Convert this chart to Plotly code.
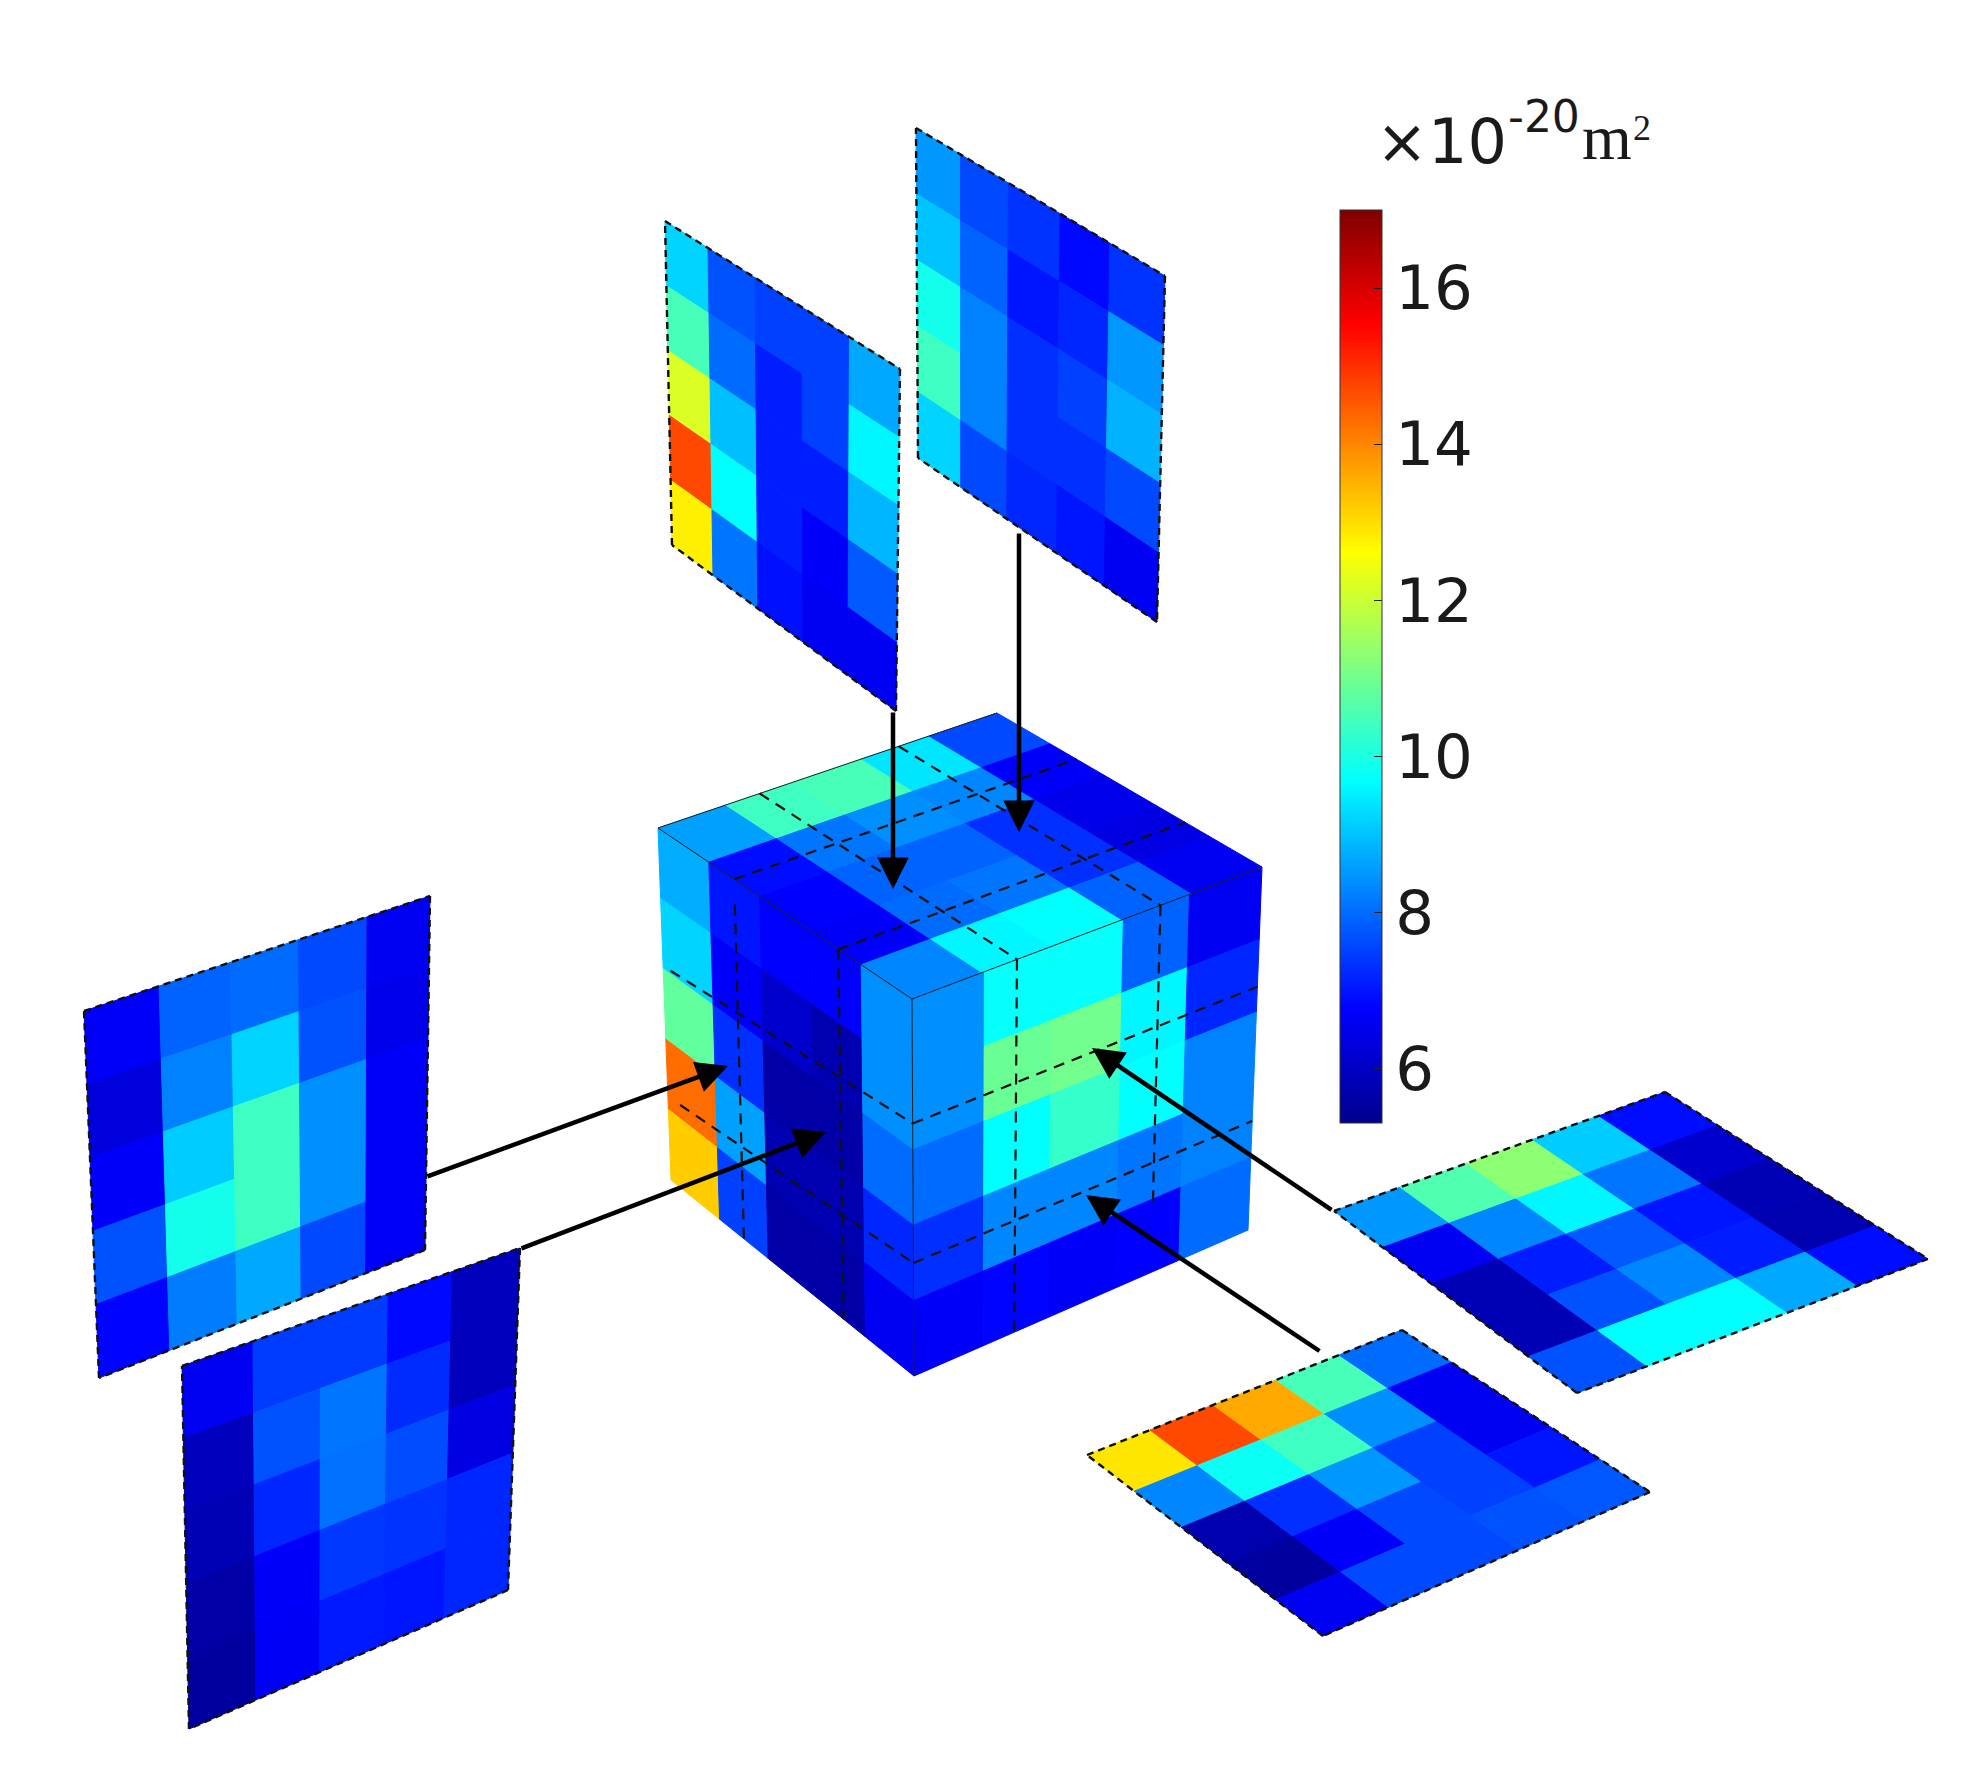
"""Six slice heatmaps around a cube of cross-section values, drawn on pixel-like axes."""

import plotly.graph_objects as go
from plotly.colors import sample_colorscale

# Values, x 10^-20 m2. Every inner list is one column of a 5 x 5 slice, first row first.
slice_top_left = [
    [9.2, 10.5, 12.2, 14.7, 12.8],
    [7.7, 8.0, 8.95, 9.7, 8.1],
    [7.5, 7.1, 7.1, 7.1, 6.95],
    [7.5, 7.5, 7.1, 6.7, 6.6],
    [8.7, 9.6, 8.85, 7.8, 6.6],
]
slice_top_right = [
    [8.5, 9.0, 9.9, 10.4, 9.2],
    [7.6, 7.9, 8.25, 8.25, 7.6],
    [7.35, 7.0, 7.3, 7.3, 7.2],
    [6.85, 7.2, 7.5, 7.3, 7.0],
    [7.35, 8.5, 8.8, 7.6, 6.6],
]
slice_left_upper = [
    [6.7, 6.3, 6.7, 7.7, 6.8],
    [7.9, 8.25, 9.1, 9.9, 8.2],
    [8.0, 9.2, 10.4, 10.4, 8.7],
    [7.6, 7.7, 8.4, 8.4, 7.6],
    [6.6, 6.5, 6.7, 6.7, 6.7],
]
slice_left_lower = [
    [6.6, 5.9, 5.8, 5.6, 5.5],
    [7.45, 7.7, 7.2, 6.7, 6.65],
    [7.45, 8.1, 8.05, 7.4, 7.05],
    [6.85, 7.25, 7.65, 7.35, 7.0],
    [5.9, 5.9, 6.4, 7.2, 7.2],
]
slice_right_upper = [
    [8.5, 6.6, 5.8, 5.8, 7.7],
    [10.6, 8.3, 7.1, 7.7, 9.7],
    [11.3, 9.6, 7.8, 8.3, 9.7],
    [9.1, 8.1, 7.0, 7.1, 8.7],
    [6.9, 6.1, 5.8, 5.7, 6.9],
]
slice_right_lower = [
    [12.9, 8.3, 5.7, 5.5, 6.6],
    [14.7, 9.8, 7.3, 6.7, 7.6],
    [13.6, 10.4, 8.5, 7.6, 7.6],
    [10.5, 8.4, 7.5, 7.5, 7.7],
    [8.0, 6.6, 6.6, 7.0, 7.75],
]
cube_left = [
    [8.75, 9.2, 10.8, 14.3, 13.2],
    [7.0, 6.7, 7.3, 8.6, 7.5],
    [6.75, 6.1, 5.6, 5.75, 5.6],
    [6.75, 5.75, 5.6, 5.75, 5.6],
    [8.4, 8.4, 8.0, 7.2, 6.6],
]
cube_right = [
    [8.4, 8.4, 8.0, 7.3, 6.7],
    [9.75, 10.9, 9.7, 8.3, 6.8],
    [9.75, 11.0, 10.3, 8.3, 6.7],
    [7.9, 9.6, 9.7, 8.1, 6.75],
    [6.6, 7.2, 8.25, 8.25, 8.0],
]
cube_top = [
    [8.6, 10.4, 10.5, 9.4, 7.6],
    [6.9, 8.1, 8.4, 8.3, 6.7],
    [6.75, 7.9, 7.9, 7.3, 6.5],
    [6.7, 8.0, 8.1, 7.3, 6.4],
    [8.3, 9.6, 9.7, 7.9, 6.6],
]

V_MIN, V_MAX = 5.3, 17.0
colorbar_ticks = [6, 8, 10, 12, 14, 16]
JET = [
    [0.0, "#00008f"], [0.125, "#0000ff"], [0.375, "#00ffff"],
    [0.625, "#ffff00"], [0.875, "#ff0000"], [1.0, "#800000"],
]

# The page body has an 8px margin, so the figure starts there
PAGE_W, PAGE_H, BODY_MARGIN = 1963, 1770, 8
FIG_W, FIG_H = PAGE_W - BODY_MARGIN, PAGE_H - BODY_MARGIN

# Column edges across a face; the drawing is not quite uniform
EVEN_EDGES = (0, 0.2, 0.4, 0.6, 0.8, 1)

# Where each face lands on the page: top-left, top-right, bottom-right, bottom-left
FACES = [
    (slice_top_left, ((665, 221), (900, 369), (896, 711), (672, 545)), (0, 0.183, 0.383, 0.584, 0.785, 1)),
    (slice_top_right, ((916, 128), (1165, 276), (1157, 622), (918, 458)), (0, 0.179, 0.371, 0.579, 0.779, 1)),
    (slice_left_upper, ((84, 1011), (430, 896), (425, 1250), (99, 1378)), (0, 0.217, 0.424, 0.62, 0.818, 1)),
    (slice_left_lower, ((182, 1366), (520, 1248), (508, 1590), (189, 1729)), (0, 0.21, 0.41, 0.61, 0.8, 1)),
    (slice_right_upper, ((1334, 1211), (1665, 1092), (1928, 1259), (1577, 1393)), EVEN_EDGES),
    (slice_right_lower, ((1087, 1455), (1402, 1330), (1650, 1492), (1323, 1636)), EVEN_EDGES),
]
CUBE_LEFT = ((658, 828), (912, 999), (914, 1376), (671, 1180))
CUBE_RIGHT = ((912, 999), (1262, 867), (1248, 1230), (914, 1376))
CUBE_TOP = ((658, 828), (912, 999), (1262, 867), (997, 713))
CUBE_FACES = [
    (cube_left, CUBE_LEFT, EVEN_EDGES),
    (cube_right, CUBE_RIGHT, (0, 0.207, 0.402, 0.604, 0.793, 1)),
    (cube_top, CUBE_TOP, EVEN_EDGES),
]

# Cutting planes as seen on the cube faces: (u0, v0, u1, v1) in face fractions
LEFT_CUTS = [(0.3, 0.07, 0.3, 1.0), (0.71, 0.0, 0.71, 1.0),
             (0.03, 0.39, 1.0, 0.33), (0.05, 0.76, 1.0, 0.7)]
RIGHT_CUTS = [(0.3, 0.0, 0.3, 1.0), (0.71, 0.0, 0.71, 0.82),
              (0.0, 0.33, 1.0, 0.33), (0.0, 0.7, 1.0, 0.7)]
TOP_CUTS = [(0.3, 0.0, 0.3, 1.0), (0.71, 0.0, 0.71, 1.0),
            (0.0, 0.3, 1.0, 0.3), (0.0, 0.71, 1.0, 0.71)]

# Arrows as (tail, tip)
ARROWS = [
    ((893, 711), (893, 889)),
    ((1019, 532), (1019, 832)),
    ((426, 1177), (728, 1066)),
    ((520, 1249), (826, 1132)),
    ((1333, 1211), (1092, 1048)),
    ((1321, 1352), (1086, 1195)),
]

# Unit label pieces: text, left edge, baseline, font, size
UNIT_LABEL = [
    ("×10", 1374, 165, "DejaVu Sans", 62),
    ("-20", 1506, 133, "DejaVu Sans", 44),
    ("m", 1580, 161, "Liberation Serif", 64),
    ("2", 1631, 142, "Liberation Serif", 36),
]


def face_point(corners, u, v):
    """Bilinear position on a face, u to the right and v downwards, both 0..1."""
    tl, tr, br, bl = corners
    x = (1 - v) * ((1 - u) * tl[0] + u * tr[0]) + v * ((1 - u) * bl[0] + u * br[0])
    y = (1 - v) * ((1 - u) * tl[1] + u * tr[1]) + v * ((1 - u) * bl[1] + u * br[1])
    return x, y


def value_color(value):
    return sample_colorscale(JET, [(value - V_MIN) / (V_MAX - V_MIN)])[0]


def add_cells(fig, columns, corners, col_edges):
    n_rows = len(columns[0])
    for c, column in enumerate(columns):
        u0, u1 = col_edges[c], col_edges[c + 1]
        for r, value in enumerate(column):
            pts = [
                face_point(corners, u0, r / n_rows),
                face_point(corners, u1, r / n_rows),
                face_point(corners, u1, (r + 1) / n_rows),
                face_point(corners, u0, (r + 1) / n_rows),
            ]
            color = value_color(value)
            fig.add_trace(go.Scatter(
                x=[p[0] for p in pts] + [pts[0][0]],
                y=[p[1] for p in pts] + [pts[0][1]],
                mode="lines",
                fill="toself",
                fillcolor=color,
                line=dict(color=color, width=1),
                hovertemplate=f"{value}<extra></extra>",
                showlegend=False,
            ))


def add_line(fig, start, end, color="black", width=1.5, dash="solid"):
    fig.add_trace(go.Scatter(
        x=[start[0], end[0]],
        y=[start[1], end[1]],
        mode="lines",
        line=dict(color=color, width=width, dash=dash),
        hoverinfo="skip",
        showlegend=False,
    ))


fig = go.Figure()

for columns, corners, col_edges in FACES:
    add_cells(fig, columns, corners, col_edges)
    for i in range(4):
        add_line(fig, corners[i], corners[(i + 1) % 4], color="#111111", width=2.4, dash="7px,5px")

for columns, corners, col_edges in CUBE_FACES:
    add_cells(fig, columns, corners, col_edges)

# Thin edges of the cube
add_line(fig, CUBE_TOP[0], CUBE_TOP[1], color="#222222", width=1)
add_line(fig, CUBE_TOP[1], CUBE_TOP[2], color="#222222", width=1)
add_line(fig, CUBE_TOP[0], CUBE_TOP[3], color="#222222", width=1)
add_line(fig, CUBE_LEFT[1], CUBE_LEFT[2], color="#222222", width=1)

for corners, cuts in [(CUBE_LEFT, LEFT_CUTS), (CUBE_RIGHT, RIGHT_CUTS), (CUBE_TOP, TOP_CUTS)]:
    for u0, v0, u1, v1 in cuts:
        add_line(fig, face_point(corners, u0, v0), face_point(corners, u1, v1),
                 color="#111111", width=2.2, dash="11px,8px")

# Colour bar only, the cells above carry their own colours
fig.add_trace(go.Scatter(
    x=[None],
    y=[None],
    mode="markers",
    marker=dict(
        color=[V_MIN],
        cmin=V_MIN,
        cmax=V_MAX,
        colorscale=JET,
        colorbar=dict(
            thicknessmode="pixels",
            thickness=42,
            lenmode="pixels",
            len=913,
            x=(1340 - BODY_MARGIN) / FIG_W,
            xanchor="left",
            xpad=0,
            y=1 - (210 + 913 / 2 - BODY_MARGIN) / FIG_H,
            yanchor="middle",
            ypad=0,
            tickvals=colorbar_ticks,
            ticks="inside",
            ticklen=8,
            tickcolor="#222222",
            tickfont=dict(family="DejaVu Sans", size=61, color="#1a1a1a"),
            outlinecolor="#333333",
            outlinewidth=1,
        ),
    ),
    showlegend=False,
))

for tail, tip in ARROWS:
    fig.add_annotation(
        x=tip[0], y=tip[1], ax=tail[0], ay=tail[1],
        xref="x", yref="y", axref="x", ayref="y",
        text="",
        showarrow=True,
        arrowhead=2,
        arrowsize=1.4,
        arrowwidth=4.5,
        arrowcolor="black",
    )

for text, left, baseline, family, size in UNIT_LABEL:
    descent = 0.24 if family == "DejaVu Sans" else 0.22
    fig.add_annotation(
        x=left, y=baseline + descent * size, xref="x", yref="y",
        xanchor="left", yanchor="bottom",
        text=text, showarrow=False,
        font=dict(family=family, size=size, color="#1a1a1a"),
    )

fig.update_layout(
    width=FIG_W,
    height=FIG_H,
    margin=dict(l=0, r=0, t=0, b=0),
    paper_bgcolor="white",
    plot_bgcolor="white",
    xaxis=dict(range=[BODY_MARGIN, PAGE_W], visible=False, fixedrange=True),
    yaxis=dict(range=[PAGE_H, BODY_MARGIN], visible=False, fixedrange=True),
)

fig.write_html("out.html", config=dict(displayModeBar=False))
